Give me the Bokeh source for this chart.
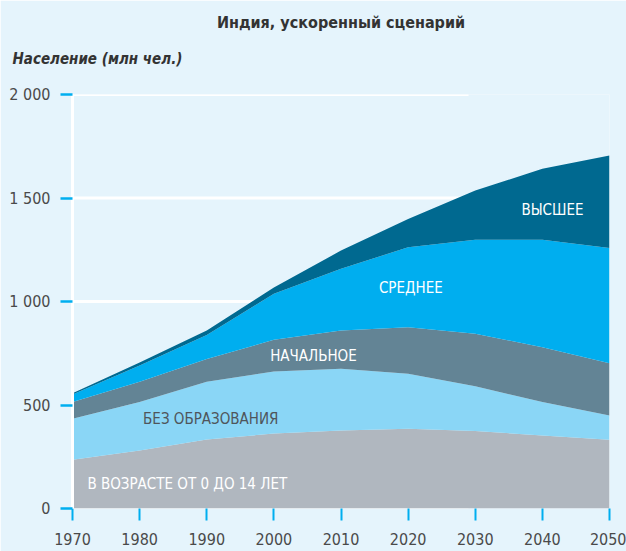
from bokeh.plotting import figure
from bokeh.models import ColumnDataSource, Range1d, FixedTicker, Label, Title
from bokeh.embed import file_html
from bokeh.resources import INLINE

# ---- data (millions of people) ----
years = [1970, 1980, 1990, 2000, 2010, 2020, 2030, 2040, 2050]
age_0_14 = [235, 280, 333, 362, 377, 385, 374, 353, 332]
no_education = [198, 234, 279, 300, 298, 266, 216, 161, 117]
primary = [81, 98, 110, 153, 185, 225, 254, 265, 253]
secondary = [37, 79, 116, 223, 298, 386, 454, 519, 557]
tertiary = [6, 14, 22, 30, 88, 137, 238, 343, 446]

series_names = ["age_0_14", "no_education", "primary", "secondary", "tertiary"]
series_labels = ["В ВОЗРАСТЕ ОТ 0 ДО 14 ЛЕТ", "БЕЗ ОБРАЗОВАНИЯ", "НАЧАЛЬНОЕ", "СРЕДНЕЕ", "ВЫСШЕЕ"]
y_ticks = [0, 500, 1000, 1500, 2000]
y_tick_labels = ["0", "500", "1 000", "1 500", "2 000"]
x_ticks = years

title_text = "Индия, ускоренный сценарий"
ylabel_text = "Население (млн чел.)"

# ---- styling ----
BG = "#e5f4fc"
COLORS = ["#b0b7bf", "#8ad6f6", "#638495", "#00aeef", "#006990"]
LABEL_COLORS = ["white", "#4f555b", "white", "white", "white"]
TICK_BLUE = "#00aeef"
FONT = "DejaVu Sans Condensed"

source = ColumnDataSource(dict(year=years, age_0_14=age_0_14, no_education=no_education,
                               primary=primary, secondary=secondary, tertiary=tertiary))

p = figure(width=626, height=551, output_backend="svg", toolbar_location=None,
           x_range=Range1d(1970, 2050), y_range=Range1d(0, 2000),
           min_border_left=72, min_border_right=17, min_border_top=94, min_border_bottom=43,
           background_fill_color=BG, border_fill_color=BG, outline_line_color=None)
p.styles = {"position": "absolute", "top": "0px", "left": "0px"}

p.xgrid.visible = False
p.ygrid.visible = False

# partial white grid lines
p.segment(x0=[1970] * len(y_ticks), x1=[2029] * len(y_ticks), y0=y_ticks, y1=y_ticks,
          line_color="white", line_width=3)

p.varea_stack(stackers=series_names, x="year", color=COLORS, source=source)

# axes
for ax in (p.xaxis, p.yaxis):
    ax.major_tick_line_color = TICK_BLUE
    ax.minor_tick_line_color = None
    ax.major_label_text_font = FONT
    ax.major_label_text_font_size = "16px"
    ax.major_label_text_color = "#4a4a4a"
    ax.major_tick_in = 0
    ax.major_tick_out = 12
    ax.major_label_standoff = 10

p.xaxis.ticker = FixedTicker(ticks=x_ticks)
p.xaxis.axis_line_color = None
p.xaxis.major_tick_line_width = 2
p.xaxis.major_label_standoff = 12

p.yaxis.ticker = FixedTicker(ticks=y_ticks)
p.yaxis.major_label_overrides = {t: s for t, s in zip(y_ticks, y_tick_labels)}
p.yaxis.axis_line_color = "white"
p.yaxis.axis_line_width = 3
p.yaxis.major_tick_line_width = 2.5

# series labels (data units)
label_pos = [(1987.1, 116), (1990.6, 432), (2005.9, 737), (2020.4, 1065), (2041.5, 1444)]
for (lx, ly), txt, col in zip(label_pos, series_labels, LABEL_COLORS):
    p.add_layout(Label(x=lx, y=ly, text=txt, text_align="center", text_baseline="middle",
                       text_font=FONT, text_font_size="15px", text_color=col))

# spacer nearest the frame, then unit label, then main title
p.add_layout(Title(text=" ", align="left", standoff=0,
                   text_font=FONT, text_font_size="15px", text_color=BG), "above")
p.add_layout(Title(text=ylabel_text, align="left", offset=-60, standoff=13,
                   text_font=FONT, text_font_size="15px", text_font_style="bold italic",
                   text_color="#333333"), "above")
p.add_layout(Title(text=title_text, align="center", offset=2, standoff=20,
                   text_font=FONT, text_font_size="16px", text_font_style="bold",
                   text_color="#333333"), "above")

open("out.html", "w").write(file_html(p, INLINE))
